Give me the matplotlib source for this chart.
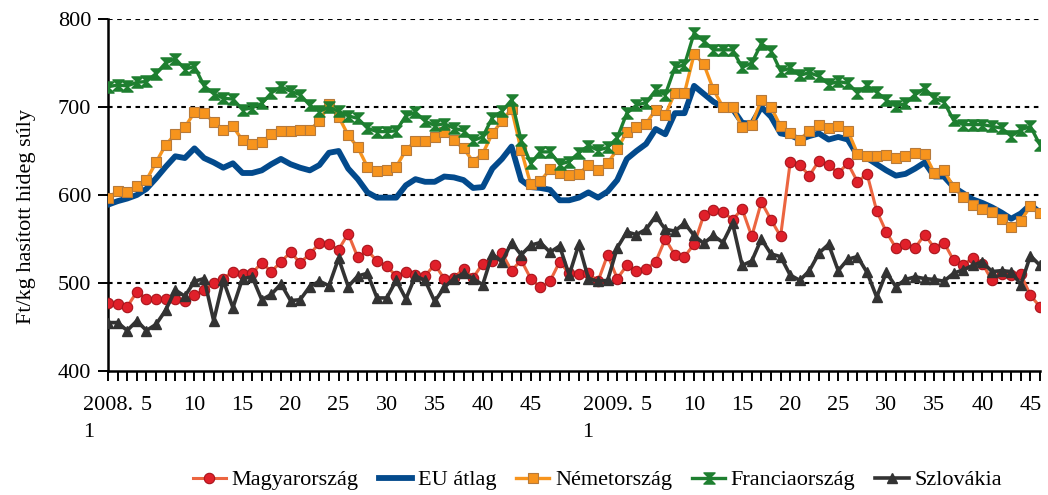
import matplotlib
matplotlib.use("Agg")
import matplotlib.pyplot as plt
from matplotlib.path import Path
import numpy as np

# 2008 week 1-52, 2009 week 1-46
weeks = list(range(1, 53)) + list(range(1, 47))

magyar = [477, 476, 473, 490, 482, 482, 482, 482, 480, 486, 492, 500, 505, 513, 510, 511,
          523, 513, 524, 535, 523, 533, 545, 544, 538, 556, 529, 537, 525, 519, 508, 512,
          509, 508, 521, 505, 506, 516, 506, 522, 525, 534, 514, 526, 505, 495, 502, 524,
          511, 510, 511, 502, 532, 505, 520, 514, 516, 524, 550, 532, 530, 544, 577, 583,
          581, 572, 584, 553, 592, 572, 553, 637, 634, 622, 639, 634, 625, 636, 615, 624,
          582, 558, 540, 544, 540, 555, 540, 546, 526, 521, 528, 522, 503, 510, 509, 510,
          486, 473]

eu = [589, 593, 596, 600, 607, 619, 632, 644, 642, 653, 642, 637, 631, 636, 625, 625,
      628, 635, 641, 635, 631, 628, 634, 648, 650, 630, 618, 603, 597, 597, 597, 611,
      618, 615, 615, 621, 620, 617, 608, 609, 630, 641, 655, 617, 609, 608, 606, 594,
      594, 597, 603, 597, 604, 617, 641, 650, 658, 675, 669, 693, 693, 724, 715, 706,
      700, 698, 682, 681, 700, 689, 670, 668, 663, 667, 670, 663, 666, 663, 645, 642,
      635, 628, 622, 624, 630, 637, 621, 621, 609, 602, 595, 591, 586, 580, 573, 579,
      589, 580]

nemet = [597, 604, 603, 610, 617, 637, 657, 669, 677, 694, 693, 683, 674, 678, 662, 658,
         660, 669, 673, 673, 674, 674, 684, 703, 689, 668, 654, 632, 627, 628, 632, 651,
         661, 661, 666, 672, 662, 653, 638, 647, 670, 684, 698, 651, 612, 616, 629, 625,
         623, 624, 634, 628, 636, 652, 672, 677, 681, 697, 691, 716, 716, 760, 749, 720,
         700, 700, 677, 680, 708, 700, 678, 671, 663, 673, 680, 676, 678, 673, 647, 644,
         644, 645, 642, 644, 648, 647, 625, 628, 609, 598, 589, 584, 581, 573, 564, 571,
         587, 579]

francia = [723, 725, 724, 728, 729, 738, 750, 755, 743, 746, 724, 715, 710, 709, 697, 699,
           704, 716, 723, 718, 714, 702, 695, 700, 695, 690, 687, 676, 672, 672, 673, 690,
           694, 684, 679, 681, 676, 673, 662, 666, 688, 695, 708, 662, 636, 649, 649, 635,
           638, 648, 656, 651, 654, 665, 693, 702, 705, 719, 714, 745, 748, 784, 775, 765,
           765, 765, 745, 750, 772, 764, 741, 744, 736, 739, 735, 726, 729, 727, 716, 724,
           717, 708, 701, 704, 714, 721, 710, 706, 685, 680, 680, 680, 678, 676, 667, 674,
           678, 657]

szlovak = [455, 455, 446, 457, 446, 453, 469, 492, 485, 502, 505, 457, 503, 472, 505, 507,
           481, 487, 499, 480, 481, 496, 502, 497, 528, 496, 508, 511, 483, 483, 503, 482,
           508, 503, 479, 495, 505, 511, 505, 498, 533, 524, 546, 532, 543, 546, 535, 542,
           509, 544, 505, 502, 503, 540, 558, 555, 561, 576, 561, 559, 568, 554, 545, 554,
           546, 568, 520, 525, 550, 533, 530, 509, 503, 514, 534, 544, 514, 527, 530, 512,
           484, 512, 496, 504, 507, 505, 504, 502, 511, 515, 520, 524, 513, 514, 513, 498,
           531, 520]

# label only every 5th week, year on week 1
tick_text = []
for k, w in enumerate(weeks):
    if w == 1:
        tick_text.append("2008.\n1" if k == 0 else "2009.\n1")
    elif w % 5 == 0 and w <= 45:
        tick_text.append(str(w))
    else:
        tick_text.append("")

plt.rcParams["font.family"] = ["Liberation Serif", "DejaVu Serif"]
plt.rcParams["font.size"] = 16

fig = plt.figure(figsize=(10.48, 4.95), dpi=100)
ax = fig.add_axes([108 / 1048, 124 / 495, 932 / 1048, 352 / 495])

x = np.arange(len(weeks))

hourglass = Path([(-1, 1), (1, 1), (-1, -1), (1, -1), (-1, 1)],
                 [Path.MOVETO, Path.LINETO, Path.LINETO, Path.LINETO, Path.CLOSEPOLY])

for yv in [500, 600, 700, 800]:
    ax.axhline(yv, color="black", linestyle=(0, (2.2, 2.2)), linewidth=1.5, zorder=1)

ax.plot(x, magyar, color="#EC6540", linewidth=2.2, marker="o", markersize=7.5,
        markerfacecolor="#E0202A", markeredgecolor="#A8141C", markeredgewidth=0.8,
        label="Magyarország", zorder=3)
ax.plot(x, eu, color="#034A8C", linewidth=4.2, label="EU átlag", zorder=3)
ax.plot(x, nemet, color="#F7941D", linewidth=2.4, marker="s", markersize=7,
        markerfacecolor="#F7941D", markeredgecolor="#B77A3A", markeredgewidth=0.8,
        label="Németország", zorder=3)
ax.plot(x, francia, color="#1E7F30", linewidth=2.4, marker=hourglass, markersize=8,
        markerfacecolor="#1E7F30", markeredgecolor="#1E7F30",
        label="Franciaország", zorder=3)
ax.plot(x, szlovak, color="#333333", linewidth=2.6, marker="^", markersize=7.5,
        markerfacecolor="#333333", markeredgecolor="#333333",
        label="Szlovákia", zorder=3)

ax.set_xlim(0, len(weeks) - 1)
ax.set_ylim(400, 800)
ax.set_yticks([400, 500, 600, 700, 800])
ax.set_xticks(x)
ax.set_xticklabels(tick_text, multialignment="left", linespacing=1.55)

for s in ["top", "right"]:
    ax.spines[s].set_visible(False)
ax.spines["left"].set_linewidth(1.8)
ax.spines["bottom"].set_linewidth(1.8)
ax.tick_params(axis="both", direction="out", length=7, width=1.4, colors="black",
               labelsize=16)
ax.tick_params(axis="x", pad=11)
ax.tick_params(axis="y", pad=5)

ax.set_ylabel("Ft/kg hasított hideg súly", fontsize=16)
ax.yaxis.set_label_coords(-0.077, 0.44)

fig.legend(loc="center", bbox_to_anchor=(0.57, 0.03), ncol=5, frameon=False,
           fontsize=16, handlelength=1.5, handletextpad=0.25, columnspacing=0.9)

plt.savefig("out.png", dpi=100)
